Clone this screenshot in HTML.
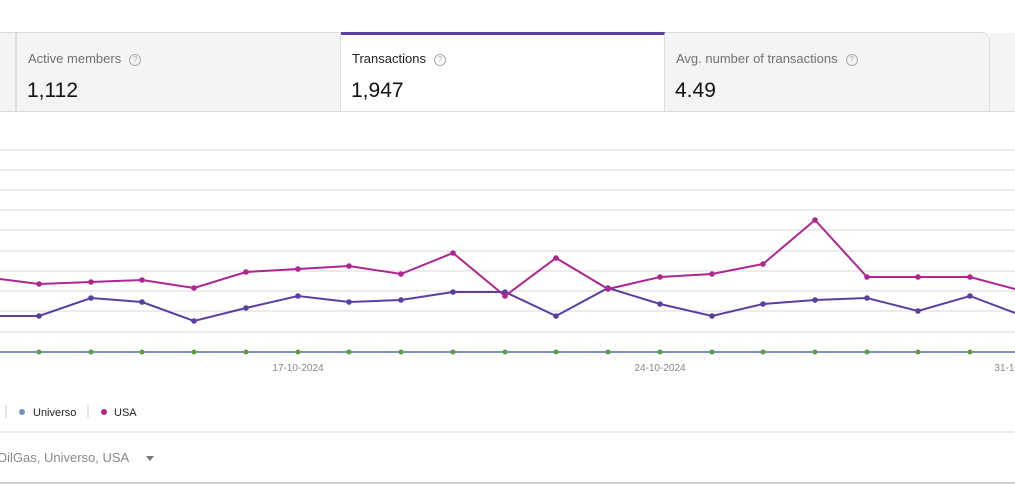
<!DOCTYPE html>
<html><head><meta charset="utf-8"><style>
body{margin:0;width:1015px;height:503px;background:#fff;font-family:"Liberation Sans",sans-serif;position:relative;overflow:hidden}
.t{position:absolute;top:32px;height:80px;box-sizing:border-box;border-top:1px solid #dcdcdc}
.lab{position:absolute;left:11px;top:18px;font-size:13px;color:#707070}
.q{display:inline-block;width:10px;height:10px;border:1px solid #aaa;border-radius:50%;font-size:8px;line-height:10px;text-align:center;color:#aaa;margin-left:8px;vertical-align:1px}
.val{position:absolute;left:10px;top:46px;font-size:21px;color:#111}
</style></head><body>
<div class="t" style="left:0;width:17px;background:#f4f4f4;border-right:2px solid #ddd"></div>
<div class="t" style="left:17px;width:324px;background:#f4f4f4;border-right:1px solid #ddd"><div class="lab">Active members<span class="q">?</span></div><div class="val">1,112</div></div>
<div class="t" style="left:341px;width:324px;background:#fff;border-top:3px solid #5a3fa0;border-right:1px solid #ddd"><div class="lab" style="color:#222;top:16px">Transactions<span class="q">?</span></div><div class="val" style="top:44px">1,947</div></div>
<div class="t" style="left:665px;width:325px;background:#f4f4f4;border-right:1px solid #ddd;border-top-right-radius:8px"><div class="lab">Avg. number of transactions<span class="q">?</span></div><div class="val">4.49</div></div>
<div class="t" style="left:990px;width:25px;background:#f4f4f4;border-top:none;top:33px;height:79px"></div>
<div style="position:absolute;left:0;top:111px;width:1015px;height:1px;background:#dcdcdc"></div>
<svg style="position:absolute;left:0;top:0" width="1015" height="503">
<g stroke="#e6e6e6" stroke-width="1.5">
<line x1="0" x2="1015" y1="150" y2="150"/><line x1="0" x2="1015" y1="170" y2="170"/><line x1="0" x2="1015" y1="190" y2="190"/><line x1="0" x2="1015" y1="210" y2="210"/><line x1="0" x2="1015" y1="230" y2="230"/><line x1="0" x2="1015" y1="251" y2="251"/><line x1="0" x2="1015" y1="271" y2="271"/><line x1="0" x2="1015" y1="291" y2="291"/><line x1="0" x2="1015" y1="311" y2="311"/><line x1="0" x2="1015" y1="332" y2="332"/>
</g>
<line x1="0" x2="1015" y1="352" y2="352" stroke="#7b93c0" stroke-width="2"/>
<g fill="#5a9e3a">
<circle cx="39" cy="352" r="2.5"/><circle cx="91" cy="352" r="2.5"/><circle cx="142" cy="352" r="2.5"/><circle cx="194" cy="352" r="2.5"/><circle cx="246" cy="352" r="2.5"/><circle cx="298" cy="352" r="2.5"/><circle cx="349" cy="352" r="2.5"/><circle cx="401" cy="352" r="2.5"/><circle cx="453" cy="352" r="2.5"/><circle cx="505" cy="352" r="2.5"/><circle cx="556" cy="352" r="2.5"/><circle cx="608" cy="352" r="2.5"/><circle cx="660" cy="352" r="2.5"/><circle cx="712" cy="352" r="2.5"/><circle cx="763" cy="352" r="2.5"/><circle cx="815" cy="352" r="2.5"/><circle cx="867" cy="352" r="2.5"/><circle cx="918" cy="352" r="2.5"/><circle cx="970" cy="352" r="2.5"/>
</g>
<polyline fill="none" stroke="#5a3fa0" stroke-width="2" points="0,316 39,316 91,298 142,302 194,321 246,308 298,296 349,302 401,300 453,292 505,292 556,316 608,288 660,304 712,316 763,304 815,300 867,298 918,311 970,296 1015,313"/>
<g fill="#5a3fa0"><circle cx="39" cy="316" r="2.8"/><circle cx="91" cy="298" r="2.8"/><circle cx="142" cy="302" r="2.8"/><circle cx="194" cy="321" r="2.8"/><circle cx="246" cy="308" r="2.8"/><circle cx="298" cy="296" r="2.8"/><circle cx="349" cy="302" r="2.8"/><circle cx="401" cy="300" r="2.8"/><circle cx="453" cy="292" r="2.8"/><circle cx="505" cy="292" r="2.8"/><circle cx="556" cy="316" r="2.8"/><circle cx="608" cy="288" r="2.8"/><circle cx="660" cy="304" r="2.8"/><circle cx="712" cy="316" r="2.8"/><circle cx="763" cy="304" r="2.8"/><circle cx="815" cy="300" r="2.8"/><circle cx="867" cy="298" r="2.8"/><circle cx="918" cy="311" r="2.8"/><circle cx="970" cy="296" r="2.8"/></g>
<polyline fill="none" stroke="#b0258f" stroke-width="2" points="0,279 39,284 91,282 142,280 194,288 246,272 298,269 349,266 401,274 453,253 505,296 556,258 608,289 660,277 712,274 763,264 815,220 867,277 918,277 970,277 1015,289"/>
<g fill="#b0258f"><circle cx="39" cy="284" r="2.8"/><circle cx="91" cy="282" r="2.8"/><circle cx="142" cy="280" r="2.8"/><circle cx="194" cy="288" r="2.8"/><circle cx="246" cy="272" r="2.8"/><circle cx="298" cy="269" r="2.8"/><circle cx="349" cy="266" r="2.8"/><circle cx="401" cy="274" r="2.8"/><circle cx="453" cy="253" r="2.8"/><circle cx="505" cy="296" r="2.8"/><circle cx="556" cy="258" r="2.8"/><circle cx="608" cy="289" r="2.8"/><circle cx="660" cy="277" r="2.8"/><circle cx="712" cy="274" r="2.8"/><circle cx="763" cy="264" r="2.8"/><circle cx="815" cy="220" r="2.8"/><circle cx="867" cy="277" r="2.8"/><circle cx="918" cy="277" r="2.8"/><circle cx="970" cy="277" r="2.8"/></g>
<g fill="#888" font-size="10" font-family="Liberation Sans,sans-serif" text-anchor="middle">
<text x="298" y="371">17-10-2024</text><text x="660" y="371">24-10-2024</text><text x="1020" y="371">31-10-2024</text>
</g>
<line x1="6" x2="6" y1="405" y2="418" stroke="#ccc"/>
<circle cx="22" cy="412" r="3" fill="#6f94c9"/>
<text x="33" y="416" font-size="11" fill="#222" font-family="Liberation Sans,sans-serif">Universo</text>
<line x1="88" x2="88" y1="405" y2="418" stroke="#ccc"/>
<circle cx="104" cy="412" r="3" fill="#b0258f"/>
<text x="114" y="416" font-size="11" fill="#222" font-family="Liberation Sans,sans-serif">USA</text>
<line x1="0" x2="1015" y1="432" y2="432" stroke="#dcdcdc"/>
<text x="-3" y="462" font-size="13" fill="#888" font-family="Liberation Sans,sans-serif">OilGas, Universo, USA</text>
<path d="M146,456 L154,456 L150,461 Z" fill="#777"/>
<line x1="0" x2="1015" y1="483" y2="483" stroke="#d4d4d4" stroke-width="2"/>
</svg>
</body></html>
